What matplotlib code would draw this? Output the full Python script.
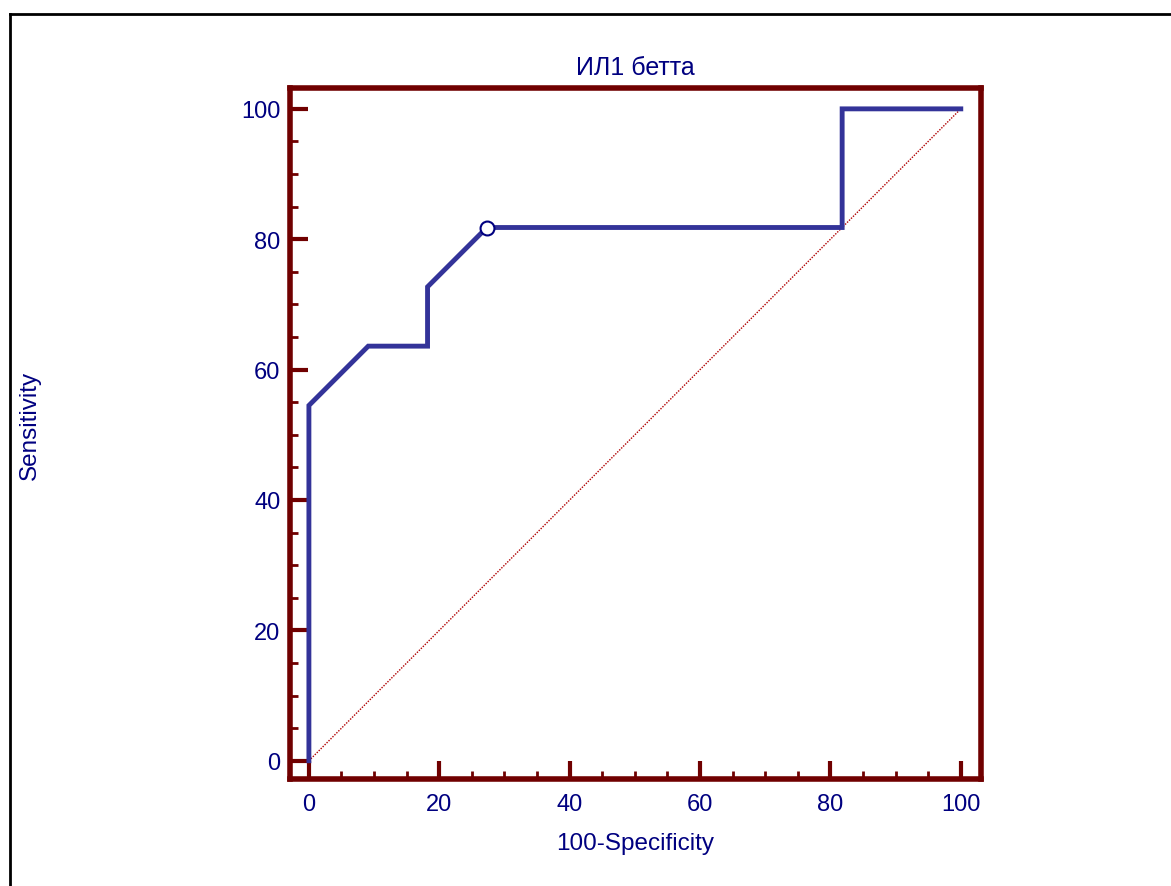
import matplotlib
matplotlib.use("Agg")
import matplotlib.pyplot as plt
from matplotlib.ticker import MultipleLocator
from matplotlib.lines import Line2D

plt.rcParams['font.family'] = ['Liberation Sans', 'DejaVu Sans']

# Data
fpr = [0, 0, 9.1, 18.2, 18.2, 27.3, 81.8, 81.8, 100]
tpr = [0, 54.5, 63.6, 63.6, 72.7, 81.8, 81.8, 100, 100]
cut_x = [27.3]
cut_y = [81.8]
title = "ИЛ1 бетта"
xlabel = "100-Specificity"
ylabel = "Sensitivity"

W, H = 1171, 887
fig = plt.figure(figsize=(W / 100, H / 100), dpi=100)
ax = fig.add_axes([290 / W, 1 - 780 / H, (981 - 290) / W, (780 - 89) / H])

spine_c = '#700000'
text_c = '#000080'

ax.plot([0, 100], [0, 100], color='#b00000', lw=1.0, ls=(0, (1, 1)), zorder=2)
ax.plot(fpr, tpr, color='#333399', lw=3.5, solid_joinstyle='miter', zorder=3)
ax.plot(cut_x, cut_y, 'o', ms=10, mfc='white', mec='#000080', mew=1.5, zorder=4)

ax.set_xlim(-2.9, 103.1)
ax.set_ylim(-2.8, 103.2)

for s in ax.spines.values():
    s.set_color(spine_c)
    s.set_linewidth(4)

ax.xaxis.set_major_locator(MultipleLocator(20))
ax.xaxis.set_minor_locator(MultipleLocator(5))
ax.yaxis.set_major_locator(MultipleLocator(20))
ax.yaxis.set_minor_locator(MultipleLocator(5))
ax.tick_params(which='major', direction='in', length=13, width=3, color=spine_c,
               labelcolor=text_c, labelsize=17)
ax.tick_params(axis='x', which='major', pad=10)
ax.tick_params(axis='y', which='major', pad=7)
ax.tick_params(which='minor', direction='in', length=6, width=2, color=spine_c)
ax.tick_params(top=False, right=False, which='both')

ax.set_title(title, color=text_c, fontsize=18, pad=10)
ax.set_xlabel(xlabel, color=text_c, fontsize=17.5, labelpad=12)
fig.text(30 / W, 1 - 425 / H, ylabel, color=text_c, fontsize=17.5,
         rotation=90, ha='center', va='center')

# outer border
fig.add_artist(Line2D([9.5 / W, 9.5 / W], [0, 1 - 15 / H], color='black', lw=2))
fig.add_artist(Line2D([9.5 / W, 1], [1 - 15 / H, 1 - 15 / H], color='black', lw=2))

fig.savefig("out.png", dpi=100)
